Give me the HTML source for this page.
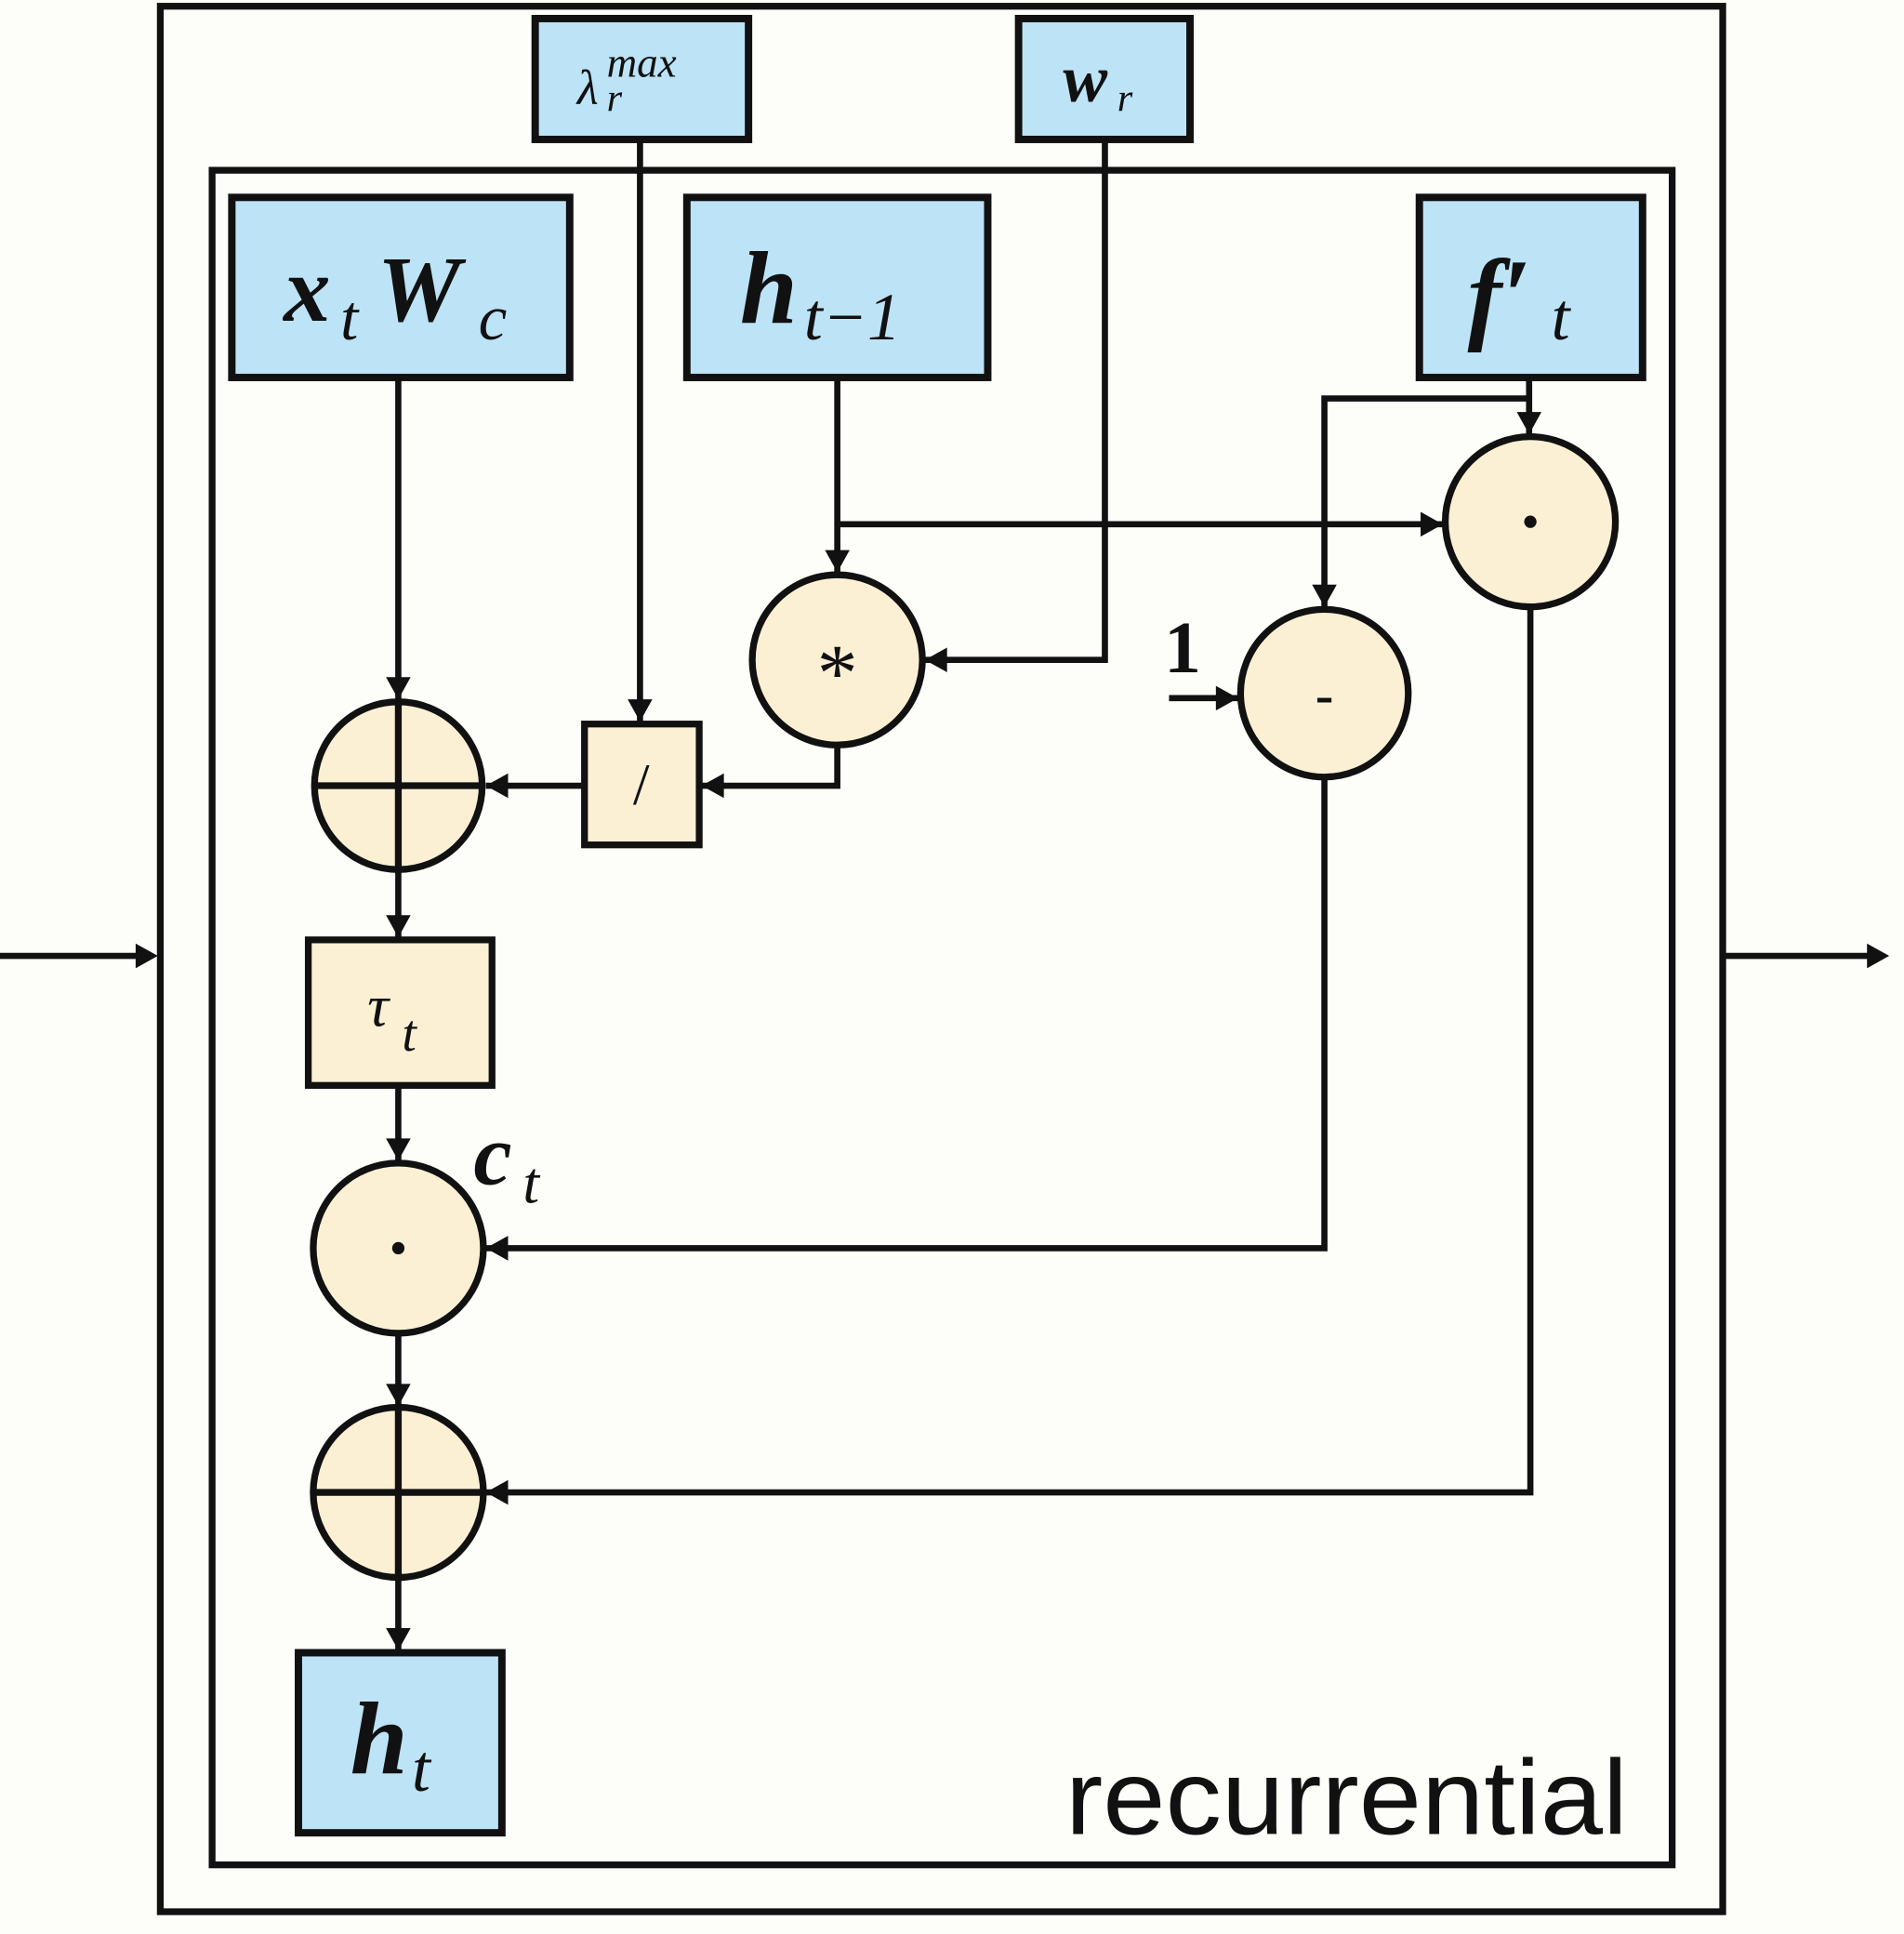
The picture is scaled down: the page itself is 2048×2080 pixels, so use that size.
<!DOCTYPE html>
<html><head><meta charset="utf-8"><style>
html,body{margin:0;padding:0;background:#fdfdf9;}
svg{display:block;}
text{font-family:"Liberation Serif",serif;fill:#111;}
</style></head><body>
<svg width="2048" height="2080" viewBox="0 0 1544 1568" xmlns="http://www.w3.org/2000/svg">
<rect width="1544" height="1568" fill="#fdfdf9"/>
<g fill="none" stroke="#111" stroke-width="5.5">
<rect x="130" y="5" width="1267" height="1545"/>
<rect x="172" y="138" width="1184" height="1374"/>
</g>
<g stroke="#111" stroke-width="6" fill="#bde3f7">
<rect x="434" y="15" width="173" height="98"/>
<rect x="826" y="15" width="139" height="98"/>
<rect x="188" y="160" width="274" height="146"/>
<rect x="557" y="160" width="244" height="146"/>
<rect x="1151" y="160" width="181" height="146"/>
<rect x="242" y="1340" width="165" height="146"/>
</g>
<g stroke="#111" stroke-width="5.5" fill="#fbf0d4">
<rect x="474" y="587" width="93" height="98"/>
<rect x="250" y="762" width="149" height="118"/>
<circle cx="323" cy="637" r="68"/>
<circle cx="679" cy="535" r="69"/>
<circle cx="1074" cy="562" r="68"/>
<circle cx="1241" cy="423" r="69"/>
<circle cx="323" cy="1012" r="69"/>
<circle cx="323" cy="1210" r="69"/>
</g>
<g stroke="#111" stroke-width="5.5" fill="none">
<line x1="255" y1="637" x2="391" y2="637"/>
<line x1="255" y1="1210" x2="391" y2="1210"/>
<line x1="323" y1="569" x2="323" y2="705"/>
<line x1="323" y1="1142" x2="323" y2="1278"/>
</g>
<g stroke="#111" stroke-width="5" fill="none">
<line x1="0" y1="775" x2="118" y2="775"/>
<line x1="1397" y1="775" x2="1520" y2="775"/>
</g>
<path d="M110,765 L128,775 L110,785 z" fill="#111"/>
<path d="M1514,765 L1532,775 L1514,785 z" fill="#111"/>
<g stroke="#111" stroke-width="5" fill="none">
<polyline points="323,306 323,567"/>
<polyline points="519,113 519,585"/>
<polyline points="896,113 896,535 750,535"/>
<polyline points="679,306 679,464"/>
<polyline points="679,425 1170,425"/>
<polyline points="1240,306 1240,352"/>
<polyline points="1240,323 1074,323 1074,492"/>
<polyline points="948,566 1004,566"/>
<polyline points="1074,630 1074,1012 394,1012"/>
<polyline points="1241,492 1241,1210 394,1210"/>
<polyline points="679,604 679,637 569,637"/>
<polyline points="474,637 394,637"/>
<polyline points="323,705 323,760"/>
<polyline points="323,880 323,941"/>
<polyline points="323,1081 323,1140"/>
<polyline points="323,1279 323,1338"/>
</g>
<g fill="#111">
<path d="M313,549 L323,567 L333,549 z"/>
<path d="M509,567 L519,585 L529,567 z"/>
<path d="M768,525 L750,535 L768,545 z"/>
<path d="M669,446 L679,464 L689,446 z"/>
<path d="M1152,415 L1170,425 L1152,435 z"/>
<path d="M1230,334 L1240,352 L1250,334 z"/>
<path d="M1064,474 L1074,492 L1084,474 z"/>
<path d="M986,556 L1004,566 L986,576 z"/>
<path d="M412,1002 L394,1012 L412,1022 z"/>
<path d="M412,1200 L394,1210 L412,1220 z"/>
<path d="M587,627 L569,637 L587,647 z"/>
<path d="M412,627 L394,637 L412,647 z"/>
<path d="M313,742 L323,760 L333,742 z"/>
<path d="M313,923 L323,941 L333,923 z"/>
<path d="M313,1122 L323,1140 L333,1122 z"/>
<path d="M313,1320 L323,1338 L333,1320 z"/>
<circle cx="1241" cy="423" r="5"/>
<circle cx="323" cy="1012" r="5"/>
</g>
<text x="468" y="84" font-size="40" font-style="italic">λ</text>
<text x="492" y="62" font-size="34" font-style="italic">max</text>
<text x="492" y="90" font-size="32" font-style="italic">r</text>
<text x="862" y="82" font-size="54" font-style="italic" font-weight="bold">w</text>
<text x="906" y="90" font-size="32" font-style="italic">r</text>
<text x="230" y="260" font-size="76" font-style="italic" font-weight="bold">x</text>
<text x="276" y="275" font-size="52" font-style="italic">t</text>
<text x="306" y="260" font-size="76" font-style="italic" font-weight="bold">W</text>
<text x="388" y="275" font-size="52" font-style="italic">c</text>
<text x="600" y="262" font-size="84" font-style="italic" font-weight="bold">h</text>
<text x="652" y="275" font-size="54" font-style="italic">t−1</text>
<text x="1190" y="268" font-size="84" font-style="italic" font-weight="bold">f′</text>
<text x="1258" y="275" font-size="54" font-style="italic">t</text>
<text x="284" y="1438" font-size="84" font-style="italic" font-weight="bold">h</text>
<text x="334" y="1452" font-size="54" font-style="italic">t</text>
<text x="298" y="832" font-size="48" font-style="italic">τ</text>
<text x="326" y="852" font-size="42" font-style="italic">t</text>
<text x="384" y="960" font-size="70" font-style="italic" font-weight="bold">c</text>
<text x="424" y="975" font-size="48" font-style="italic">t</text>
<text x="679" y="568" font-size="66" text-anchor="middle" font-family="Liberation Sans">*</text>
<text x="1074" y="578" font-size="44" text-anchor="middle" font-weight="bold">-</text>
<text x="520" y="652" font-size="48" text-anchor="middle" font-family="Liberation Sans">/</text>
<text x="944" y="545" font-size="60" font-weight="bold">1</text>
<text x="864" y="1487" font-size="86" font-family="Liberation Sans" textLength="456" lengthAdjust="spacingAndGlyphs" style="font-family:'Liberation Sans',sans-serif">recurrential</text>
</svg>
</body></html>
